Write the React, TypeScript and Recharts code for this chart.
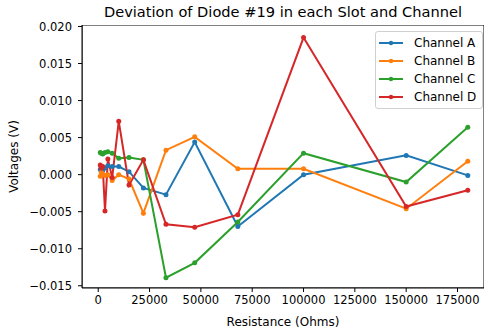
import React from "react"
import { LineChart, Line, XAxis, YAxis, ReferenceArea } from "recharts"

// Resistor values (E6 series) the diode was measured against
const resistances = [
  1000, 1500, 2200, 3300, 4700, 6800, 10000, 15000, 22000, 33000, 47000,
  68000, 100000, 150000, 180000,
]

const channelA = [
  0.0007, 0.001, 0.0006, 0.0009, 0.0012, 0.0011, 0.0011, 0.0004, -0.0018,
  -0.0027, 0.0044, -0.007, 0.0, 0.0026, -0.0001,
]
const channelB = [
  -0.0002, 0.0003, 0.0001, -0.0001, 0.0, -0.0008, 0.0, -0.0006, -0.0052,
  0.0033, 0.0051, 0.0008, 0.0008, -0.0046, 0.0018,
]
const channelC = [
  0.003, 0.0029, 0.0028, 0.003, 0.0031, 0.0029, 0.0022, 0.0023, 0.002,
  -0.0139, -0.0119, -0.0064, 0.0029, -0.001, 0.0064,
]
const channelD = [
  0.0013, 0.0009, 0.0011, -0.0049, 0.0021, -0.0004, 0.0072, -0.0014, 0.002,
  -0.0067, -0.0071, -0.0054, 0.0185, -0.0043, -0.0021,
]

const xTicks = [0, 25000, 50000, 75000, 100000, 125000, 150000, 175000]
const yTicks = [-0.015, -0.01, -0.005, 0, 0.005, 0.01, 0.015, 0.02]

const series = [
  { key: "a", name: "Channel A", color: "#1f77b4", values: channelA },
  { key: "b", name: "Channel B", color: "#ff7f0e", values: channelB },
  { key: "c", name: "Channel C", color: "#2ca02c", values: channelC },
  { key: "d", name: "Channel D", color: "#d62728", values: channelD },
]

const data = resistances.map((r, i) => {
  const row: Record<string, number> = { r }
  series.forEach((s) => {
    row[s.key] = s.values[i]
  })
  return row
})

const X_DOMAIN = [-7900, 187900]
const Y_DOMAIN = [-0.0153, 0.0202]

const FONT = "'DejaVu Sans', sans-serif"
const TICK_SIZE = 11.5
const LABEL_SIZE = 12
const fmtY = (v: number) => v.toFixed(3).replace("-", "\u2212")

function LegendBox() {
  return (
    <div
      style={{
        position: "absolute",
        left: 375,
        top: 31,
        width: 108,
        boxSizing: "border-box",
        border: "1px solid #d0d0d0",
        borderRadius: 3,
        background: "rgba(255,255,255,0.8)",
        padding: "2px 0 2px 2px",
        fontFamily: FONT,
        fontSize: LABEL_SIZE,
        color: "#000",
      }}
    >
      {series.map((s) => (
        <div
          key={s.key}
          style={{ display: "flex", alignItems: "center", height: 18 }}
        >
          <svg width={26} height={10} style={{ marginRight: 10 }}>
            <line x1={1} y1={5} x2={25} y2={5} stroke={s.color} strokeWidth={2} />
            <circle cx={13} cy={5} r={2.2} fill={s.color} />
          </svg>
          <span style={{ whiteSpace: "nowrap" }}>{s.name}</span>
        </div>
      ))}
    </div>
  )
}

export default function App() {
  return (
    <div
      style={{
        position: "absolute",
        left: 0,
        top: 0,
        width: 485,
        height: 330,
        background: "#fff",
      }}
    >
      <div
        style={{
          position: "absolute",
          left: 82,
          width: 402,
          top: 3,
          textAlign: "center",
          fontFamily: FONT,
          fontSize: 14.6,
          color: "#000",
          whiteSpace: "nowrap",
        }}
      >
        Deviation of Diode #19 in each Slot and Channel
      </div>
      <LineChart
        width={485}
        height={330}
        data={data}
        margin={{ top: 25, right: 1, bottom: 0, left: 0 }}
        style={{ fontFamily: FONT }}
      >
        <XAxis
          dataKey="r"
          type="number"
          domain={X_DOMAIN}
          ticks={xTicks}
          interval={0}
          allowDataOverflow
          height={42}
          tickSize={4}
          tickMargin={4}
          stroke="#000"
          tick={{ fill: "#000", fontSize: TICK_SIZE }}
          label={{
            value: "Resistance (Ohms)",
            position: "insideBottom",
            offset: 4,
            fill: "#000",
            fontSize: LABEL_SIZE,
          }}
        />
        <YAxis
          type="number"
          domain={Y_DOMAIN}
          ticks={yTicks}
          interval={0}
          allowDataOverflow
          width={82}
          tickSize={4}
          tickMargin={6}
          tickFormatter={fmtY}
          stroke="#000"
          tick={{ fill: "#000", fontSize: TICK_SIZE }}
          label={{
            value: "Voltages (V)",
            angle: -90,
            position: "insideLeft",
            offset: 14,
            style: { textAnchor: "middle" },
            fill: "#000",
            fontSize: LABEL_SIZE,
          }}
        />
        <ReferenceArea
          x1={X_DOMAIN[0]}
          x2={X_DOMAIN[1]}
          y1={Y_DOMAIN[0]}
          y2={Y_DOMAIN[1]}
          fill="none"
          stroke="#000"
          strokeWidth={1}
          ifOverflow="hidden"
        />
        {series.map((s) => (
          <Line
            key={s.key}
            dataKey={s.key}
            name={s.name}
            stroke={s.color}
            strokeWidth={2}
            dot={{ r: 2.5, fill: s.color, stroke: s.color, strokeWidth: 0 }}
            activeDot={false}
            isAnimationActive={false}
          />
        ))}
      </LineChart>
      <LegendBox />
    </div>
  )
}
